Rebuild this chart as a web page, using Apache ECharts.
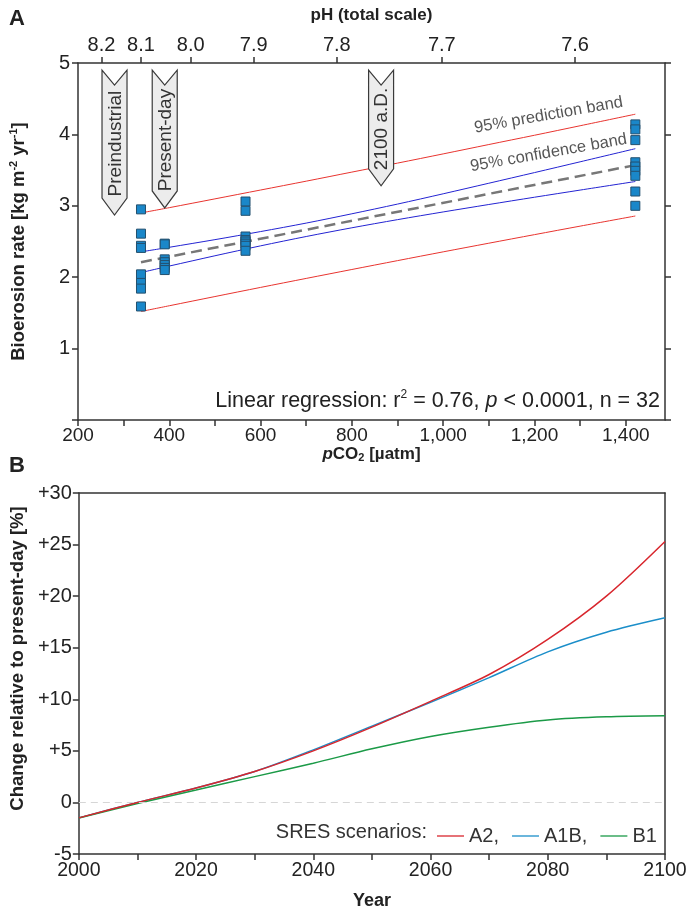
<!DOCTYPE html>
<html>
<head>
<meta charset="utf-8">
<script src="https://cdn.jsdelivr.net/npm/echarts@6/dist/echarts.min.js"></script>
<style>
html,body{margin:0;padding:0;background:#fff;}
#chart{width:695px;height:914px;}
</style>
</head>
<body>
<div id="chart"></div>
<script>
// ---------- Panel A data ----------
var co2Levels = [338, 390, 567, 1421];
var ratesAt338 = [2.95, 2.61, 2.44, 2.41, 2.04, 1.92, 1.84, 1.59];
var ratesAt390 = [2.47, 2.46, 2.25, 2.21, 2.17, 2.13, 2.10];
var ratesAt567 = [3.06, 2.93, 2.57, 2.52, 2.50, 2.47, 2.44, 2.37];
var ratesAt1421 = [4.14, 4.07, 3.92, 3.61, 3.55, 3.49, 3.42, 3.20, 3.00];

var bandX      = [338, 400, 500, 600, 700, 800, 900, 1000, 1100, 1200, 1300, 1421];
var confUpper  = [2.355, 2.419, 2.526, 2.639, 2.758, 2.888, 3.024, 3.168, 3.316, 3.465, 3.616, 3.800];
var confLower  = [2.065, 2.156, 2.300, 2.439, 2.570, 2.692, 2.806, 2.914, 3.018, 3.120, 3.220, 3.340];
var predUpper  = [2.900, 2.974, 3.097, 3.221, 3.345, 3.472, 3.598, 3.727, 3.858, 3.988, 4.121, 4.283];
var predLower  = [1.520, 1.600, 1.729, 1.857, 1.983, 2.108, 2.232, 2.355, 2.476, 2.596, 2.715, 2.857];
var regX = [338, 1421];
var regY = [2.21, 3.57];

var pHLabels  = ['8.2', '8.1', '8.0', '7.9', '7.8', '7.7', '7.6'];
var pHTickCO2 = [251.5, 338, 447, 585, 767, 997, 1289];

var arrowLabels = ['Preindustrial', 'Present-day', '2100 a.D.'];
var arrowCO2    = [280, 390, 864];
var arrowTop    = [4.90, 4.90, 4.90];
var arrowTip    = [2.87, 2.97, 3.28];

var bandLabels = ['95% prediction band', '95% confidence band'];
var bandLabelPos = [[1231, 4.27], [1231, 3.74]];

// ---------- Panel B data ----------
var years = [2000, 2010, 2020, 2030, 2040, 2050, 2060, 2070, 2080, 2090, 2100];
var a2  = [-1.5, 0.0, 1.4, 3.0, 5.0, 7.3, 9.8, 12.4, 15.8, 20.0, 25.3];
var a1b = [-1.5, 0.0, 1.4, 3.0, 5.1, 7.4, 9.7, 12.1, 14.6, 16.5, 17.9];
var b1  = [-1.5, -0.1, 1.2, 2.5, 3.8, 5.2, 6.4, 7.3, 8.0, 8.3, 8.4];

function zip(xs, ys){ return xs.map(function(x,i){ return [x, ys[i]]; }); }

var scatterData = []
  .concat(ratesAt338.map(function(v){ return [co2Levels[0], v]; }))
  .concat(ratesAt390.map(function(v){ return [co2Levels[1], v]; }))
  .concat(ratesAt567.map(function(v){ return [co2Levels[2], v]; }))
  .concat(ratesAt1421.map(function(v){ return [co2Levels[3], v]; }));

var FONT = '"Liberation Sans", Arial, sans-serif';
var TXT = '#222';
var AX = '#333';

var chart = echarts.init(document.getElementById('chart'), null, {renderer:'canvas'});

var axisLineStyle = {show:true, onZero:false, lineStyle:{color:AX, width:1.5}};
var tickStyle = {show:true, inside:false, length:6, lineStyle:{color:AX, width:1.5}};

var option = {
  animation: false,
  textStyle: {fontFamily: FONT, color: TXT},
  grid: [
    {left: 76, right: 30, top: 63, height: 357},
    {left: 76, right: 30, top: 493, height: 361}
  ],
  xAxis: [
    { // 0: pCO2 bottom
      type:'value', gridIndex:0, position:'bottom', min:200, max:1486, interval:100,
      axisLine: axisLineStyle, axisTick: tickStyle,
      axisLabel: {fontSize:19, color:TXT, margin:6, showMaxLabel:false,
        formatter: function(v){ return (v % 200 === 0) ? v.toLocaleString('en-US') : ''; }},
      splitLine: {show:false},
      name: '{i|p}{b|CO}{sub|2}{b| [µatm]}',
      nameLocation:'middle', nameGap:19,
      nameTextStyle: {rich:{
        i:{fontSize:17, fontWeight:'bold', fontStyle:'italic', color:TXT, fontFamily:FONT, lineHeight:19},
        b:{fontSize:17, fontWeight:'bold', color:TXT, fontFamily:FONT, lineHeight:19},
        sub:{fontSize:11, fontWeight:'bold', color:TXT, fontFamily:FONT, lineHeight:19, verticalAlign:'bottom'}
      }}
    },
    { // 1: pH top
      type:'value', gridIndex:0, position:'top', min:200, max:1486,
      axisLine: axisLineStyle,
      axisTick: {show:true, inside:false, length:6, customValues: pHTickCO2, lineStyle:{color:AX, width:1.5}},
      axisLabel: {fontSize:20, color:TXT, margin:8, customValues: pHTickCO2,
        formatter: function(v){ var i = pHTickCO2.indexOf(v); return i >= 0 ? pHLabels[i] : ''; }},
      splitLine: {show:false},
      name: 'pH (total scale)', nameLocation:'middle', nameGap:39,
      nameTextStyle: {fontSize:17, fontWeight:'bold', color:TXT}
    },
    { // 2: year bottom
      type:'value', gridIndex:1, position:'bottom', min:2000, max:2100, interval:10,
      axisLine: axisLineStyle, axisTick: tickStyle,
      axisLabel: {fontSize:19.5, color:TXT, margin:7,
        formatter: function(v){ return (v % 20 === 0) ? String(v) : ''; }},
      splitLine: {show:false},
      name:'Year', nameLocation:'middle', nameGap:38,
      nameTextStyle: {fontSize:18, fontWeight:'bold', color:TXT}
    },
    { // 3: panel B top border
      type:'value', gridIndex:1, position:'top', min:2000, max:2100,
      axisLine: axisLineStyle, axisTick:{show:false}, axisLabel:{show:false}, splitLine:{show:false}
    }
  ],
  yAxis: [
    { // 0: bioerosion left
      type:'value', gridIndex:0, position:'left', min:0, max:5, interval:1,
      axisLine: axisLineStyle, axisTick: tickStyle,
      axisLabel: {fontSize:20, color:TXT, margin:8,
        formatter: function(v){ return v === 0 ? '' : String(v); }},
      splitLine:{show:false},
      name: '{b|Bioerosion rate [kg m}{s|-2}{b| yr}{s|-1}{b|]}',
      nameLocation:'middle', nameGap:48, nameRotate:90,
      nameTextStyle: {rich:{
        b:{fontSize:18.5, fontWeight:'bold', color:TXT, fontFamily:FONT, lineHeight:22},
        s:{fontSize:11, fontWeight:'bold', color:TXT, fontFamily:FONT, lineHeight:22, verticalAlign:'top'}
      }}
    },
    { // 1: right border with ticks
      type:'value', gridIndex:0, position:'right', min:0, max:5, interval:1,
      axisLine: axisLineStyle, axisTick: tickStyle,
      axisLabel: {show:false}, splitLine:{show:false}
    },
    { // 2: change left
      type:'value', gridIndex:1, position:'left', min:-5, max:30, interval:5,
      axisLine: axisLineStyle, axisTick: tickStyle,
      axisLabel: {fontSize:20, color:TXT, margin:7,
        formatter: function(v){ return v > 0 ? '+' + v : String(v); }},
      splitLine:{show:false},
      name:'Change relative to present-day [%]', nameLocation:'middle', nameGap:48, nameRotate:90,
      nameTextStyle: {fontSize:18.5, fontWeight:'bold', color:TXT, padding:[0,0,0,30]}
    },
    { // 3: panel B right border
      type:'value', gridIndex:1, position:'right', min:-5, max:30,
      axisLine: axisLineStyle, axisTick:{show:false}, axisLabel:{show:false}, splitLine:{show:false}
    }
  ],
  legend: {
    data: ['A2', 'A1B', 'B1'],
    left: 432, top: 821,
    icon: 'rect', itemWidth: 27, itemHeight: 1.3, itemGap: 13,
    formatter: function(name){ return name === 'B1' ? name : name + ','; },
    textStyle: {fontSize:20, color:'#333', fontFamily:FONT}
  },
  graphic: [
    {type:'text', left: 9, top: 8, style:{text:'A', font:'bold 22px ' + FONT, fill:TXT}},
    {type:'text', left: 9, top: 455, style:{text:'B', font:'bold 22px ' + FONT, fill:TXT}},
    {type:'text', right: 35, top: 389, style:{
      text:'{t|Linear regression: r}{s|2}{t| = 0.76, }{i|p}{t| < 0.0001, n = 32}',
      rich:{
        t:{fontSize:21.5, fill:TXT, fontFamily:FONT, lineHeight:24},
        s:{fontSize:12, fill:TXT, fontFamily:FONT, lineHeight:24, verticalAlign:'top'},
        i:{fontSize:21.5, fill:TXT, fontFamily:FONT, fontStyle:'italic', lineHeight:24}
      }}},
    {type:'text', right: 695 - 427, top: 822, style:{text:'SRES scenarios:', font:'20px ' + FONT, fill:'#333', align:'right'}}
  ],
  series: [
    { name:'predUpper', type:'line', xAxisIndex:0, yAxisIndex:0, data: zip(bandX, predUpper),
      symbol:'none', smooth:0.3, lineStyle:{color:'#e8342f', width:1}, z:2 },
    { name:'predLower', type:'line', xAxisIndex:0, yAxisIndex:0, data: zip(bandX, predLower),
      symbol:'none', smooth:0.3, lineStyle:{color:'#e8342f', width:1}, z:2 },
    { name:'confUpper', type:'line', xAxisIndex:0, yAxisIndex:0, data: zip(bandX, confUpper),
      symbol:'none', smooth:0.3, lineStyle:{color:'#2323d2', width:1}, z:2 },
    { name:'confLower', type:'line', xAxisIndex:0, yAxisIndex:0, data: zip(bandX, confLower),
      symbol:'none', smooth:0.3, lineStyle:{color:'#2323d2', width:1}, z:2 },
    { name:'regression', type:'line', xAxisIndex:0, yAxisIndex:0, data: zip(regX, regY),
      symbol:'none', lineStyle:{color:'#777', width:2.5, type:[11,6]}, z:3 },
    { name:'samples', type:'scatter', xAxisIndex:0, yAxisIndex:0, data: scatterData,
      symbol:'rect', symbolSize:9,
      itemStyle:{color:'#1a87c9', borderColor:'#24506e', borderWidth:1, opacity:1}, z:4 },
    { name:'bandLabels', type:'scatter', xAxisIndex:0, yAxisIndex:0, data: bandLabelPos,
      symbolSize:0, silent:true,
      label:{show:true, position:'inside', rotate:10, fontSize:16.5, color:'#2a2a2a', fontFamily:FONT,
        formatter: function(p){ return bandLabels[p.dataIndex]; }}, z:5 },
    { name:'arrows', type:'custom', xAxisIndex:0, yAxisIndex:0, z:6, clip:false,
      data: arrowCO2.map(function(x,i){ return [x, arrowTop[i], arrowTip[i]]; }),
      encode: {x:0, y:[1,2]},
      renderItem: function(params, api){
        var t = api.coord([api.value(0), api.value(1)]);
        var b = api.coord([api.value(0), api.value(2)]);
        var x = t[0], top = t[1], bot = b[1];
        var hw = 12.5, notch = 15, tip = 17;
        return {type:'group', children:[
          {type:'polygon', shape:{points:[[x-hw,top],[x,top+notch],[x+hw,top],[x+hw,bot-tip],[x,bot],[x-hw,bot-tip]]},
            style:{fill:'#ececec', stroke:'#3a3a3a', lineWidth:1.2}},
          {type:'text', x:x + 1, y:(top+notch+bot-tip)/2 + 2, rotation:Math.PI/2,
            style:{text: arrowLabels[params.dataIndex], font:'19px ' + FONT, fill:'#333', align:'center', verticalAlign:'middle'}}
        ]};
      }
    },
    { name:'A2', type:'line', xAxisIndex:2, yAxisIndex:2, data: zip(years, a2),
      symbol:'none', smooth:0.3, lineStyle:{color:'#d8262d', width:1.5}, itemStyle:{color:'#d8262d'}, z:4,
      markLine:{silent:true, symbol:'none', label:{show:false},
        lineStyle:{color:'#d6d6d6', type:[7,5], width:1.2}, data:[{yAxis:0}]}},
    { name:'A1B', type:'line', xAxisIndex:2, yAxisIndex:2, data: zip(years, a1b),
      symbol:'none', smooth:0.3, lineStyle:{color:'#1b8ec9', width:1.5}, itemStyle:{color:'#1b8ec9'}, z:3 },
    { name:'B1', type:'line', xAxisIndex:2, yAxisIndex:2, data: zip(years, b1),
      symbol:'none', smooth:0.3, lineStyle:{color:'#1b9a47', width:1.5}, itemStyle:{color:'#1b9a47'}, z:3 }
  ]
};
chart.setOption(option);
</script>
</body>
</html>
